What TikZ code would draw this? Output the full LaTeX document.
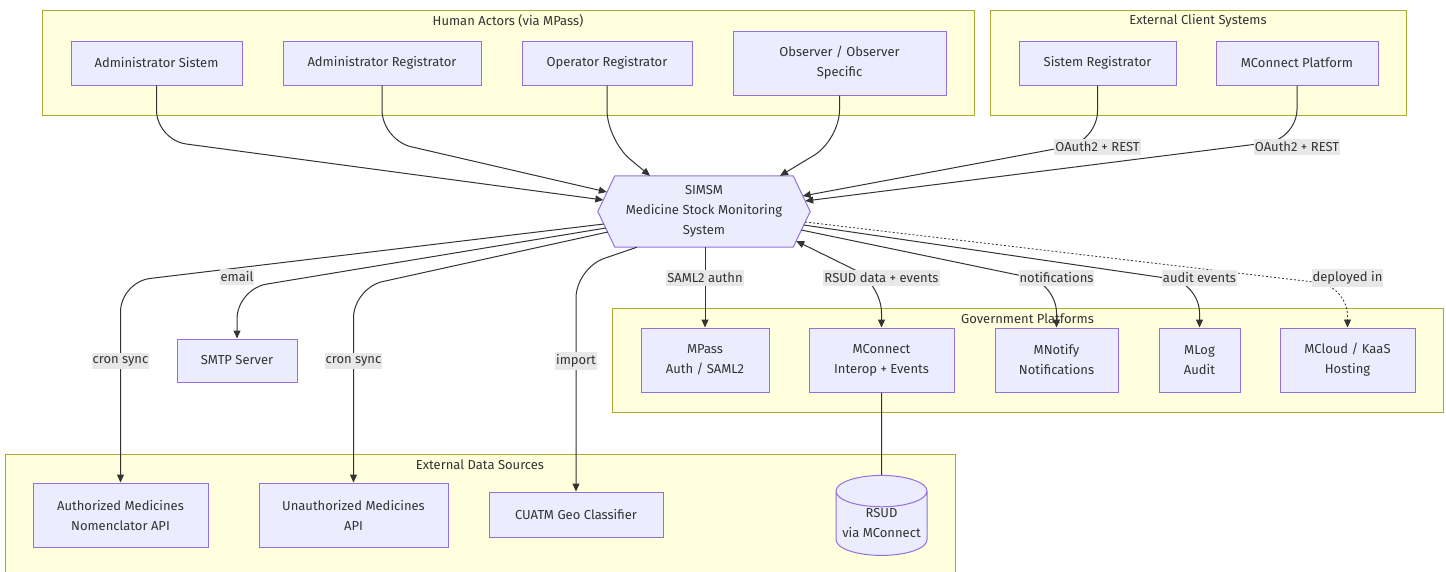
\documentclass[tikz,border=0pt]{standalone}
\usepackage{fontspec}
\setmainfont{Fira Sans}
\usepackage{xcolor}
\usetikzlibrary{arrows.meta,shapes.geometric,backgrounds}

\definecolor{boxfill}{HTML}{ECECFF}
\definecolor{boxline}{HTML}{9370DB}
\definecolor{grpfill}{HTML}{FFFFDE}
\definecolor{grpline}{HTML}{AAAA33}
\definecolor{ink}{HTML}{333333}
\definecolor{lblfill}{HTML}{E8E8E8}

\tikzset{
  box/.style={draw=boxline, fill=boxfill, line width=1pt, align=center, inner sep=0pt},
  group/.style={draw=grpline, fill=grpfill, line width=1pt, inner sep=0pt},
  link/.style={draw=ink, line width=1pt, rounded corners=30pt, ->},
  lbl/.style={fill=lblfill, inner xsep=1pt, inner ysep=3pt},
}

\begin{document}
\begin{tikzpicture}[x=1pt, y=-1pt, >={Triangle[length=8pt,width=7pt]},
  every node/.style={font=\fontsize{13}{20}\selectfont, text=ink}]
\useasboundingbox (0,0) rectangle (1446,571);

\node[group, minimum width=932pt, minimum height=105pt] (human) at (508,62.5) {};
\node (humant) at (508,20.5) {Human Actors (via MPass)};
\node[group, minimum width=416pt, minimum height=105pt] (client) at (1198,62.5) {};
\node (clientt) at (1198,20.5) {External Client Systems};
\node[group, minimum width=831pt, minimum height=104pt] (gov) at (1027.5,360) {};
\node (govt) at (1027.5,318.5) {Government Platforms};
\node[group, minimum width=950pt, minimum height=124pt] (data) at (480,516) {};
\node (datat) at (480,464.5) {External Data Sources};

\node[box, minimum width=171pt, minimum height=44pt] (adms) at (156.5,63) {Administrator Sistem};
\node[box, minimum width=198pt, minimum height=44pt] (admr) at (382,63) {Administrator Registrator};
\node[box, minimum width=170pt, minimum height=44pt] (oper) at (607,63) {Operator Registrator};
\node[box, minimum width=213pt, minimum height=64pt] (obs) at (839.5,63) {Observer / Observer\\Specific};
\node[box, minimum width=157pt, minimum height=44pt] (sreg) at (1097.5,63) {Sistem Registrator};
\node[box, minimum width=162pt, minimum height=44pt] (mcp) at (1297,63) {MConnect Platform};

\node[align=center, minimum width=212pt, minimum height=71pt, inner sep=0pt] (sim) at (704,211.5)
  {SIMSM\\Medicine Stock Monitoring\\System};
\begin{scope}[on background layer]
\draw[box] (sim.west) -- ([xshift=17pt]sim.north west) -- ([xshift=-17pt]sim.north east)
  -- (sim.east) -- ([xshift=-17pt]sim.south east) -- ([xshift=17pt]sim.south west) -- cycle;
\end{scope}

\node[box, minimum width=120pt, minimum height=43pt] (smtp) at (237,360.5) {SMTP Server};
\node[box, minimum width=128pt, minimum height=64pt] (mpass) at (705,360) {MPass\\Auth / SAML2};
\node[box, minimum width=145pt, minimum height=64pt] (mci) at (881.5,360) {MConnect\\Interop + Events};
\node[box, minimum width=123pt, minimum height=64pt] (mnot) at (1056.5,360) {MNotify\\Notifications};
\node[box, minimum width=81pt, minimum height=64pt] (mlog) at (1199.5,360) {MLog\\Audit};
\node[box, minimum width=135pt, minimum height=64pt] (mcl) at (1347.5,360) {MCloud / KaaS\\Hosting};

\node[box, minimum width=175pt, minimum height=64pt] (auth) at (120.5,515) {Authorized Medicines\\Nomenclator API};
\node[box, minimum width=189pt, minimum height=64pt] (unauth) at (353.5,515) {Unauthorized Medicines\\API};
\node[box, minimum width=174pt, minimum height=45pt] (cuatm) at (576,514.5) {CUATM Geo Classifier};
\node[box, cylinder, shape border rotate=90, aspect=0.4, minimum width=91pt, minimum height=80pt,
  cylinder uses custom fill, cylinder body fill=boxfill, cylinder end fill=boxfill] (rsud) at (881.5,523.5) {RSUD\\via MConnect};

\draw[link] (adms.south) -- (156.5,140) -- ([xshift=5.5pt,yshift=11.5pt]sim.west);
\draw[link] (admr.south) -- (382,140) -- ([xshift=9pt,yshift=19.5pt]sim.west);
\draw[link] (oper.south) -- (607,140) -- ([xshift=-54pt]sim.north);
\draw[link] (obs.south) -- (839.5,140) -- ([xshift=76pt]sim.north);
\draw[link] (sreg.south) -- (1097.5,141) -- ([xshift=-7.5pt,yshift=15.5pt]sim.east);
\draw[link] (mcp.south) -- (1297,139) -- ([xshift=-5pt,yshift=10.5pt]sim.east);

\draw[link] ([xshift=6pt,yshift=-12.5pt]sim.west) -- (120.5,282) -- (auth.north);
\draw[link] ([xshift=8pt,yshift=-16.5pt]sim.west) -- (237,289) -- (smtp.north);
\draw[link] ([xshift=10pt,yshift=-20.5pt]sim.west) -- (353.5,288) -- (unauth.north);
\draw[link] ([xshift=-67pt]sim.south) -- (576,268) -- (cuatm.north);
\draw[link] (sim.south -| mpass.north) -- (mpass.north);
\draw[link, <->] (mci.north) -- (881.5,283) -- ([xshift=-14pt,yshift=-29.5pt]sim.east);
\draw[link] ([xshift=-9pt,yshift=-18.5pt]sim.east) -- (1056.5,283) -- (mnot.north);
\draw[link] ([xshift=-6.5pt,yshift=-13.5pt]sim.east) -- (1199.5,283) -- (mlog.north);
\draw[link, line width=0.8pt, dash pattern=on 2pt off 2pt] ([xshift=-5pt,yshift=-10.5pt]sim.east) -- (1347.5,286) -- (mcl.north);
\draw[draw=ink, line width=1pt] (mci.south) -- (rsud.north);

\node[lbl] (l1) at (1097.5,147) {OAuth2 + REST};
\node[lbl] (l2) at (1297,147) {OAuth2 + REST};
\node[lbl] (l3) at (237,277) {email};
\node[lbl] (l4) at (120.5,361) {cron sync};
\node[lbl] (l5) at (353.5,361) {cron sync};
\node[lbl] (l6) at (576,361) {import};
\node[lbl] (l7) at (705,278) {SAML2 authn};
\node[lbl] (l8) at (881.5,278) {RSUD data + events};
\node[lbl] (l9) at (1056.5,278) {notifications};
\node[lbl] (l10) at (1199.5,278) {audit events};
\node[lbl] (l11) at (1347.5,278) {deployed in};
\end{tikzpicture}
\end{document}
